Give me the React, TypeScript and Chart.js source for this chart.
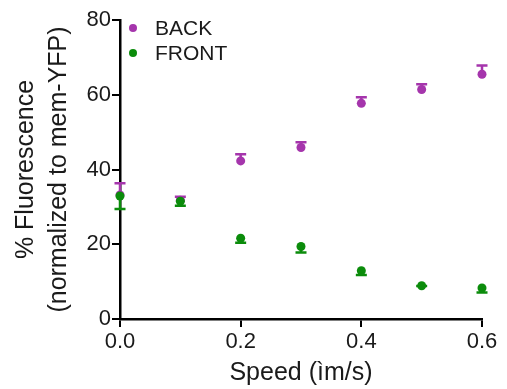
import React, { useEffect, useRef } from "react";
import { Chart, registerables } from "chart.js";

Chart.register(...registerables);

const speeds = [0.0, 0.1, 0.2, 0.3, 0.4, 0.5, 0.6];
const backMean = [33.2, 31.8, 42.3, 45.9, 57.7, 61.4, 65.5];
const backErr = [3.1, 0.9, 1.8, 1.4, 1.6, 1.4, 2.3];
const frontMean = [32.9, 31.5, 21.6, 19.4, 12.9, 8.9, 8.3];
const frontErr = [3.5, 1.2, 1.2, 1.6, 1.1, 0.1, 1.2];
const seriesLabels = ["BACK", "FRONT"];
const yTicks = [0, 20, 40, 60, 80];
const xTicks = [0.0, 0.2, 0.4, 0.6];

const PURPLE = "#a535ac";
const GREEN = "#0b8c0b";
const FONT = "'Liberation Sans', Arial, Helvetica, sans-serif";

// direction: +1 upper error, -1 lower error
const errorSets = [
  { err: backErr, dir: 1 },
  { err: frontErr, dir: -1 },
];

const errorBarPlugin = {
  id: "errorBars",
  beforeDatasetsDraw(chart: any) {
    const { ctx } = chart;
    const xs = chart.scales.x;
    const ys = chart.scales.y;
    chart.data.datasets.forEach((ds: any, i: number) => {
      const es = errorSets[i];
      ctx.save();
      ctx.strokeStyle = ds.pointBackgroundColor;
      ctx.lineWidth = 2.5;
      ds.data.forEach((p: any, j: number) => {
        const px = xs.getPixelForValue(p.x);
        const py = ys.getPixelForValue(p.y);
        const ey = ys.getPixelForValue(p.y + es.dir * es.err[j]);
        ctx.beginPath();
        ctx.moveTo(px, py);
        ctx.lineTo(px, ey);
        ctx.moveTo(px - 5.5, ey);
        ctx.lineTo(px + 5.5, ey);
        ctx.stroke();
      });
      ctx.restore();
    });
  },
};

const legendPlugin = {
  id: "insideLegend",
  afterDraw(chart: any) {
    const { ctx } = chart;
    ctx.save();
    chart.data.datasets.forEach((ds: any, i: number) => {
      const cy = 28 + i * 25;
      ctx.fillStyle = ds.pointBackgroundColor;
      ctx.beginPath();
      ctx.arc(133, cy, 4, 0, Math.PI * 2);
      ctx.fill();
      ctx.fillStyle = "#1a1a1a";
      ctx.font = `21px ${FONT}`;
      ctx.textBaseline = "middle";
      ctx.textAlign = "left";
      ctx.fillText(ds.label, 155, cy + 1);
    });
    ctx.restore();
  },
};

export default function App() {
  const ref = useRef<HTMLCanvasElement>(null);

  useEffect(() => {
    if (!ref.current) return;
    const chart = new Chart(ref.current, {
      type: "scatter",
      data: {
        datasets: [
          {
            label: seriesLabels[0],
            data: speeds.map((s, i) => ({ x: s, y: backMean[i] })),
            pointBackgroundColor: PURPLE,
            pointBorderWidth: 0,
            pointRadius: 4.5,
            order: 1,
          } as any,
          {
            label: seriesLabels[1],
            data: speeds.map((s, i) => ({ x: s, y: frontMean[i] })),
            pointBackgroundColor: GREEN,
            pointBorderWidth: 0,
            pointRadius: 4.5,
            order: 0,
          } as any,
        ],
      },
      options: {
        animation: false,
        responsive: false,
        maintainAspectRatio: false,
        layout: { padding: { top: 20, right: 25, left: 0, bottom: 0 } },
        plugins: {
          legend: { display: false },
          tooltip: { enabled: false },
        },
        clip: false as any,
        scales: {
          x: {
            type: "linear",
            min: 0,
            max: 0.6,
            afterFit: (s: any) => {
              s.height = 70;
            },
            afterBuildTicks: (s: any) => {
              s.ticks = xTicks.map((v) => ({ value: v }));
            },
            ticks: {
              color: "#1a1a1a",
              font: { family: FONT, size: 22 },
              padding: 2,
              callback: (v: any) => Number(v).toFixed(1),
              maxRotation: 0,
            },
            grid: {
              drawOnChartArea: false,
              drawTicks: true,
              tickLength: 8,
              color: "#000",
              lineWidth: 2,
            },
            border: { display: true, color: "#000", width: 2.5 },
            title: {
              display: true,
              text: "Speed (ìm/s)",
              color: "#1a1a1a",
              font: { family: FONT, size: 25 },
              padding: { top: 3, bottom: 1 },
            },
          },
          y: {
            type: "linear",
            min: 0,
            max: 80,
            afterFit: (s: any) => {
              s.width = 120;
            },
            afterBuildTicks: (s: any) => {
              s.ticks = yTicks.map((v) => ({ value: v }));
            },
            ticks: {
              color: "#1a1a1a",
              font: { family: FONT, size: 22 },
              padding: 1,
            },
            grid: {
              drawOnChartArea: false,
              drawTicks: true,
              tickLength: 8,
              color: "#000",
              lineWidth: 2,
            },
            border: { display: true, color: "#000", width: 2.5 },
            title: {
              display: true,
              text: ["% Fluorescence", "(normalized to mem-YFP)"],
              color: "#1a1a1a",
              font: { family: FONT, size: 25, lineHeight: 1.32 },
              padding: { top: 10, bottom: 0 },
            },
          },
        },
      },
      plugins: [errorBarPlugin, legendPlugin],
    });
    return () => chart.destroy();
  }, []);

  return (
    <div style={{ position: "fixed", left: 0, top: 0, width: 507, height: 389, background: "#fff" }}>
      <canvas ref={ref} width={507} height={389} style={{ width: 507, height: 389, display: "block" }} />
    </div>
  );
}
